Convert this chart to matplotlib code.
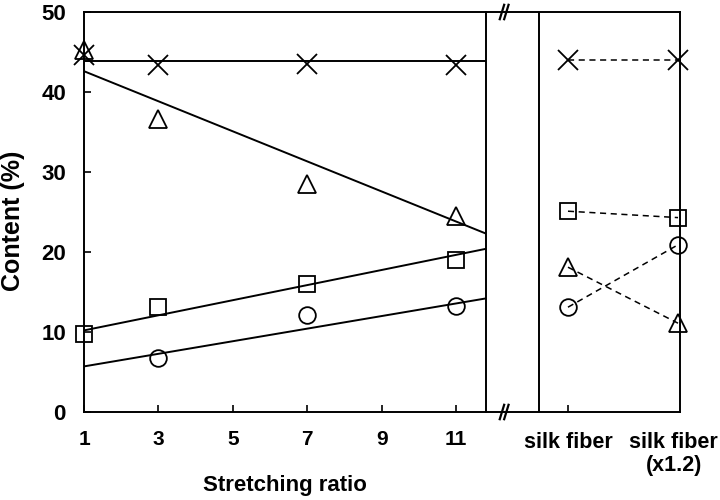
"""
Content (%) vs stretching ratio, with silk fiber references on a broken axis.
Output: out.png
"""

import matplotlib.pyplot as plt

plt.rcParams["font.family"] = ["Liberation Sans", "DejaVu Sans"]
plt.rcParams["font.weight"] = "bold"

# Stretched samples
ratio = [1, 3, 7, 11]
cross_vals = [44.6, 43.4, 43.5, 43.4]
tri_vals = [45.3, 36.6, 28.5, 24.5]
square_vals = [9.7, 13.1, 16.0, 19.0]
circle_x = [3, 7, 11]
circle_vals = [6.8, 12.1, 13.3]

# Fitted lines (at x = 1 and at the panel edge)
fit_x = [1, 11.8]
cross_fit = [43.9, 43.9]
tri_fit = [42.6, 22.3]
square_fit = [10.2, 20.4]
circle_fit = [5.7, 14.2]

# Silk fiber references
silk_labels = ["silk fiber", "silk fiber\n(x1.2)"]
silk_cross = [44.0, 44.0]
silk_square = [25.1, 24.3]
silk_tri = [18.1, 11.1]
silk_circle = [13.1, 20.9]

fig = plt.figure(figsize=(7.2, 5), dpi=100)
ax = fig.add_axes([84 / 720, 88 / 500, 402 / 720, 400 / 500])
ax2 = fig.add_axes([486 / 720, 88 / 500, 194 / 720, 400 / 500])
ax2.patch.set_visible(False)

mk = dict(color="black", markerfacecolor="none", markeredgewidth=1.3, linestyle="none", clip_on=False)

# Left panel
for yfit in [cross_fit, tri_fit, square_fit, circle_fit]:
    ax.plot(fit_x, yfit, color="black", lw=1.4)
ax.plot(ratio, cross_vals, marker="x", ms=15, **mk)
ax.plot(ratio, tri_vals, marker="^", ms=13, **mk)
ax.plot(ratio, square_vals, marker="s", ms=12, **mk)
ax.plot(circle_x, circle_vals, marker="o", ms=12, **mk)

ax.set_xlim(1, 11.8)
ax.set_ylim(0, 50)
ax.set_xticks([1, 3, 5, 7, 9, 11])
ax.set_yticks([0, 10, 20, 30, 40, 50])
ax.tick_params(axis="x", direction="in", length=5, width=1.2, labelsize=15, pad=13)
ax.tick_params(axis="y", direction="in", length=5, width=1.2, labelsize=16, pad=13)
for lab in ax.get_xticklabels() + ax.get_yticklabels():
    lab.set_fontweight("bold")
ax.set_ylabel("Content (%)", fontsize=18, fontweight="bold")
ax.yaxis.set_label_coords(-0.147, 0.478)
ax.set_xlabel("Stretching ratio", fontsize=16, fontweight="bold", labelpad=19)
for sp in ax.spines.values():
    sp.set_linewidth(1.4)

# Right panel
xs = [0, 1]
for vals, m, s in [(silk_cross, "x", 15), (silk_square, "s", 12),
                   (silk_tri, "^", 13), (silk_circle, "o", 12)]:
    ax2.plot(xs, vals, color="black", lw=1.1, linestyle=(0, (4, 3)))
    ax2.plot(xs, vals, marker=m, ms=s, **mk)

ax2.set_xlim(-0.745, 1.018)
ax2.set_ylim(0, 50)
ax2.axvline(-0.264, color="black", lw=1.4)
ax2.set_yticks([])
ax2.set_xticks([0])
ax2.set_xticklabels([""])
ax2.tick_params(axis="x", direction="in", length=5, width=1.2)
ax2.spines["left"].set_visible(False)
for sp in ax2.spines.values():
    sp.set_linewidth(1.4)
ax2.text(0, -0.05, silk_labels[0], transform=ax2.get_xaxis_transform(),
         ha="center", va="top", fontsize=15.5, fontweight="bold")
ax2.text(0.96, -0.05, silk_labels[1], transform=ax2.get_xaxis_transform(),
         ha="center", va="top", fontsize=15.5, fontweight="bold", linespacing=1.1)

# Axis break marks
tr = ax2.get_xaxis_transform()
for yb in [0, 1]:
    for dx in [-0.6, -0.56]:
        ax2.plot([dx - 0.02, dx + 0.02], [yb - 0.018, yb + 0.018], color="black",
                 lw=1.6, transform=tr, clip_on=False)

fig.savefig("out.png", dpi=100)
